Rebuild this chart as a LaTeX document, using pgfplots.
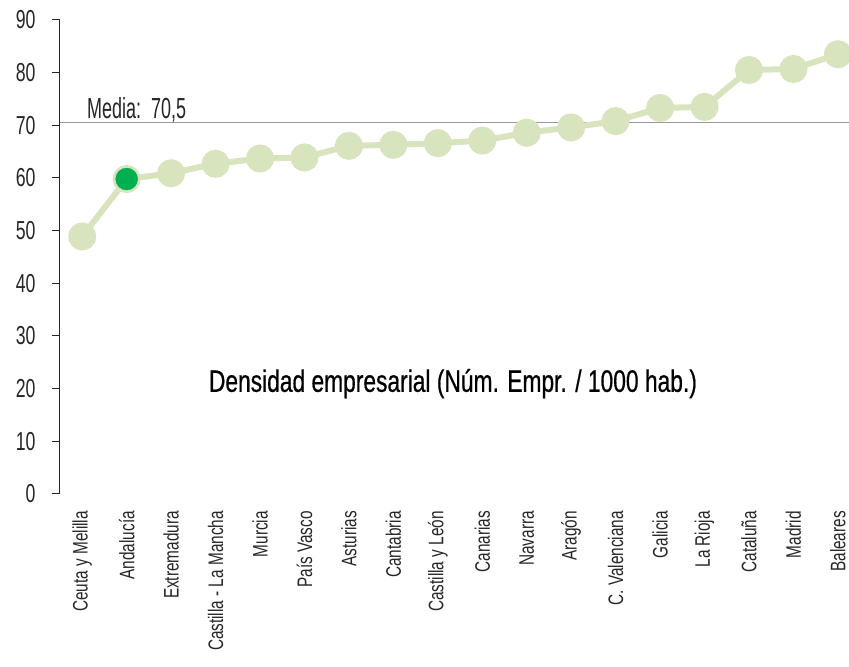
\documentclass[border=0pt]{standalone}
\usepackage{pgfplots}
\pgfplotsset{compat=1.18}
\usepackage{fontspec}
\setmainfont{Liberation Sans}[FakeStretch=0.68]
\newfontfamily\fA{Liberation Sans}[FakeStretch=0.62]
\newfontfamily\fB{Liberation Sans}[FakeStretch=0.73]
\newfontfamily\fC{Liberation Sans}[FakeStretch=0.735, FakeBold=0.6]
\definecolor{lg}{HTML}{D7E4BD}
\definecolor{dg}{HTML}{00B050}
\definecolor{tx}{HTML}{262626}
\begin{document}
\begin{tikzpicture}
\pgfplotstableread{
x y
0 48.9
1 59.8
2 60.9
3 62.7
4 63.7
5 63.9
6 66.1
7 66.3
8 66.6
9 67.1
10 68.6
11 69.6
12 70.8
13 73.3
14 73.5
15 80.5
16 80.7
17 83.5
}\datatable
\begin{axis}[
  name=ax,
  scale only axis, width=789pt, height=474pt,
  xmin=-0.5, xmax=17.25, ymin=0, ymax=90,
  clip=false,
  axis y line*=left, axis x line*=bottom,
  x axis line style={draw=none},
  y axis line style={-, draw=tx, line width=1pt},
  xtick={0,1,...,17},
  xticklabels={Ceuta y Melilla, Andalucía, Extremadura, Castilla - La Mancha, Murcia, País Vasco, Asturias, Cantabria, Castilla y León, Canarias, Navarra, Aragón, C. Valenciana, Galicia, La Rioja, Cataluña, Madrid, Baleares},
  x tick style={draw=none},
  xticklabel shift=9pt,
  xticklabel style={rotate=90, anchor=east, inner sep=0pt, font=\fB\fontsize{21}{23}\selectfont, text=tx},
  ytick={0,10,...,90},
  y tick style={draw=tx, line width=1pt},
  major tick length=8pt,
  tick align=outside,
  yticklabel style={font=\fontsize{26}{28}\selectfont, text=tx, xshift=-13pt},
  /pgf/number format/assume math mode=true,
]
\addplot[color=gray!80, line width=1.2pt, forget plot] coordinates {(-0.5,70.5) (17.25,70.5)};
\addplot[color=lg, line width=6pt, mark=*, mark size=11pt, mark options={fill=lg, draw=none}] table[x=x, y=y] {\datatable};
\addplot[only marks, mark=*, mark size=11pt, mark options={fill=dg, draw=dg}] coordinates {(1,59.8)};
\node[anchor=base west, inner sep=0pt, font=\fA\fontsize{29}{31}\selectfont, text=tx] at (axis cs:0.106,71.3) {Media:\ \ 70,5};
\node[anchor=base, inner sep=0pt, font=\fC\fontsize{31}{33}\selectfont, text=black] at (axis cs:8.34,19.4) {Densidad empresarial (Núm. Empr. / 1000 hab.)};
\end{axis}
\pgfresetboundingbox
\path (ax.south west) ++(-60pt,-173pt) rectangle ([shift={(0pt,20pt)}]ax.north east);
\end{tikzpicture}
\end{document}
